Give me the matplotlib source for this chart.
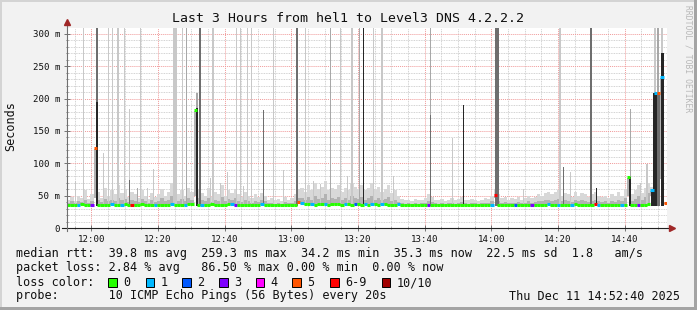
import numpy as np
import matplotlib.pyplot as plt
from matplotlib.patches import Rectangle

W, H = 697, 310

# time axis: minutes after the left edge (11:52:40), 3 hours wide
start = "11:52:40"
span = 180

# median rtt per minute (ms)
median = [
    35.5, 35, 36, 35.5, 36.5, 35, 36, 35.5, 124, 36,
    35, 36, 35.5, 36.5, 35, 36, 35.5, 37, 36, 35.5,
    36, 35.5, 36.5, 35, 36, 35.5, 35, 36, 35.5, 36,
    35, 36.5, 36, 35.5, 36, 35, 36.5, 37, 182, 36,
    35.5, 36, 35, 36.5, 35.5, 36, 35, 36, 37, 36.5,
    36, 35.5, 36, 35, 35.5, 36, 35.5, 36, 36.5, 36,
    35.5, 35, 35.5, 35, 35.5, 36, 35, 35.5, 36, 40,
    38, 37, 36.5, 37, 36, 37.5, 36.5, 37, 36, 37,
    36.5, 37, 36, 37.5, 36.5, 36, 37, 36.5, 36, 37.5,
    36, 37, 36.5, 36, 37, 36.5, 36, 35.5, 36, 36.5,
    35.5, 35, 35.5, 35, 35.5, 35, 35.5, 35, 35.5, 36,
    35, 35.5, 35, 35.5, 35, 35.5, 36, 35.5, 35, 35.5,
    35, 35.5, 35, 35.5, 36, 35.5, 35, 35.5, 51, 35,
    35.5, 35, 35.5, 35, 35.5, 35, 35.5, 35, 35.5, 35,
    35.5, 36, 35.5, 36, 36.5, 36, 35.5, 36, 35.5, 36,
    35.5, 36, 36.5, 36, 35.5, 36, 35.5, 36, 37, 36,
    35.5, 36, 35.5, 36, 35.5, 36, 35.5, 36, 79, 36,
    35.5, 36, 36, 35.5, 37, 59, 209, 209, 233, 39,
]

# minutes with packet loss (index into median) and loss class
loss_idx = [3, 7, 8, 13, 16, 19, 26, 31, 35, 40, 49, 50, 58, 69, 70, 73, 77, 83,
            86, 89, 91, 94, 99, 108, 127, 128, 134, 139, 144, 147, 151, 158, 159,
            166, 171, 175, 176, 177, 178, 179]
loss_lvl = [1, 3, 5, 1, 1, 6, 1, 1, 1, 1, 1, 3, 1, 5, 1, 1, 1, 1,
            2, 1, 1, 1, 1, 3, 1, 6, 2, 3, 1, 1, 1, 6, 1,
            1, 3, 1, 1, 5, 1, 5]

# upper edge of the light smoke per minute (ms)
smoke_top = [
    44, 48, 42, 50, 46, 58, 45, 52, 60, 55,
    47, 62, 50, 58, 52, 66, 54, 60, 48, 56,
    52, 47, 58, 50, 45, 54, 48, 52, 60, 50,
    55, 70, 64, 52, 58, 50, 62, 56, 68, 60,
    54, 50, 62, 48, 55, 52, 66, 50, 58, 54,
    60, 52, 48, 56, 50, 46, 52, 48, 54, 50,
    44, 46, 43, 45, 42, 48, 44, 46, 52, 60,
    62, 56, 66, 58, 70, 60, 64, 72, 58, 62,
    60, 66, 56, 62, 58, 70, 64, 60, 66, 58,
    62, 70, 58, 64, 56, 60, 66, 54, 58, 50,
    45, 43, 44, 42, 45, 43, 44, 46, 52, 48,
    44, 43, 45, 42, 44, 46, 43, 45, 48, 44,
    43, 45, 44, 42, 44, 46, 45, 50, 58, 52,
    46, 48, 44, 46, 45, 48, 44, 46, 50, 47,
    48, 52, 50, 54, 56, 52, 55, 58, 50, 54,
    52, 48, 56, 50, 54, 52, 48, 53, 56, 50,
    48, 50, 46, 52, 49, 55, 50, 60, 64, 52,
    58, 66, 54, 62, 70, 64, 80, 90, 95, 40,
]

# upper edge of the denser (darker) smoke per minute (ms)
smoke_mid = [
    39, 41, 38, 42, 40, 44, 39, 42, 46, 43,
    40, 45, 41, 44, 42, 47, 43, 45, 40, 44,
    42, 40, 45, 41, 39, 43, 40, 42, 46, 41,
    44, 50, 47, 42, 45, 41, 46, 44, 50, 46,
    43, 41, 46, 40, 44, 42, 48, 41, 45, 43,
    46, 42, 40, 44, 41, 39, 42, 40, 43, 41,
    38, 39, 37.5, 38.5, 37, 40, 38, 39, 42, 46,
    46, 43, 48, 44, 50, 45, 47, 52, 44, 46,
    45, 48, 43, 46, 44, 50, 47, 45, 48, 44,
    46, 50, 44, 47, 43, 45, 48, 42, 44, 40,
    38, 37, 38, 37, 38, 37, 38, 39, 42, 40,
    38, 37, 38, 37, 38, 39, 37, 38, 40, 38,
    37, 38, 38, 37, 38, 39, 38, 41, 46, 42,
    39, 40, 38, 39, 38, 40, 38, 39, 41, 39,
    40, 42, 41, 43, 44, 42, 43, 45, 41, 43,
    42, 40, 44, 41, 43, 42, 40, 42, 44, 41,
    40, 41, 39, 42, 40, 43, 41, 46, 50, 42,
    45, 50, 43, 48, 54, 50, 62, 70, 75, 38,
]

# smoke spikes: minute, top (ms), shade (0 light .. 3 black), width (min)
spike_t = [4.8, 8.9, 12.3, 13.6, 15.15, 17.1, 22.1, 32.4, 34.6, 35.9, 39.9, 43.8,
           50.7, 51.9, 54.0, 55.2, 61.8, 69.0, 71.4, 78.9, 81.9, 85.5, 87.6, 88.9,
           91.8, 94.5, 108.9, 129.0, 147.9, 157.2, 176.4, 177.3, 178.5,
           2.4, 5.1, 10.8, 18.6, 18.6, 21.0, 24.0, 25.8, 38.9, 38.9, 8.9, 42.9,
           45.9, 48.0, 52.8, 58.8, 64.8, 73.8, 75.9, 84.0, 97.8, 108.9, 115.5,
           118.8, 136.8, 148.8, 150.9, 158.7, 168.9, 168.9, 171.9, 174.0, 175.5,
           176.4, 177.4, 178.6]
spike_top = [400, 400, 400, 400, 400, 400, 400, 400, 400, 400, 400, 400,
             400, 400, 400, 400, 400, 400, 400, 400, 400, 400, 400, 400,
             400, 400, 400, 400, 400, 400, 400, 400, 400,
             72, 76, 116, 184, 74, 62, 62, 91, 209, 185, 195, 78,
             70, 86, 65, 182, 89, 73, 68, 80, 81, 175, 139,
             190, 60, 94, 87, 62, 184, 79, 70, 99, 59,
             209, 209, 270]
spike_shade = [0, 2, 0, 0, 0, 0, 0, 0, 0, 1, 2, 0,
               0, 0, 0, 0, 0, 2, 0, 1, 0, 0, 1, 3,
               0, 0, 1, 2, 0, 2, 0, 1, 0,
               0, 1, 0, 0, 2, 1, 0, 0, 1, 3, 3, 0,
               0, 0, 0, 2, 0, 0, 0, 0, 0, 2, 0,
               3, 0, 2, 0, 3, 1, 3, 0, 0, 3,
               3, 2, 3]
spike_w = [0.3, 0.6, 0.3, 0.3, 0.6, 0.3, 0.3, 1.0, 0.3, 0.4, 0.5, 0.5,
           0.3, 0.3, 0.3, 0.3, 0.3, 0.6, 0.3, 0.3, 0.3, 0.6, 0.3, 0.35,
           0.3, 0.7, 0.3, 1.0, 0.35, 0.35, 0.6, 0.6, 0.6,
           0.3, 0.3, 0.3, 0.3, 0.3, 0.3, 0.3, 0.3, 0.6, 0.6, 0.6, 0.3,
           0.3, 0.3, 0.3, 0.3, 0.3, 0.3, 0.3, 0.3, 0.3, 0.3, 0.3,
           0.3, 0.3, 0.3, 0.3, 0.3, 0.3, 0.6, 0.3, 0.4, 0.4,
           1.0, 0.8, 0.9]
shade_colors = ['#c8c8c8', '#a8a8a8', '#6e6e6e', '#262626']

x_labels = ["12:00", "12:20", "12:40", "13:00", "13:20", "13:40", "14:00", "14:20", "14:40"]
y_ticks = [0, 50, 100, 150, 200, 250, 300]
y_labels = ["0", "50 m", "100 m", "150 m", "200 m", "250 m", "300 m"]

loss_names = ["0", "1", "2", "3", "4", "5", "6-9", "10/10"]
loss_colors = ['#26ff00', '#00b8ff', '#0059ff', '#7e00ff', '#ff00ff', '#ff5500', '#ff0000', '#a10000']

row1 = "median rtt:  39.8 ms avg  259.3 ms max  34.2 ms min  35.3 ms now  22.5 ms sd  1.8   am/s"
row2 = "packet loss: 2.84 % avg   86.50 % max 0.00 % min  0.00 % now"
row4 = "probe:       10 ICMP Echo Pings (56 Bytes) every 20s"
stamp = "Thu Dec 11 14:52:40 2025"
title = "Last 3 Hours from hel1 to Level3 DNS 4.2.2.2"

MONO = 'DejaVu Sans Mono'
BG = '#f2f2f2'


def to_min(s):
    p = [int(v) for v in s.split(':')]
    while len(p) < 3:
        p.append(0)
    return p[0] * 60 + p[1] + p[2] / 60.0


t0 = to_min(start)
major_x = [to_min(s) - t0 for s in x_labels]

fig = plt.figure(figsize=(W / 100, H / 100), dpi=100, facecolor=BG)
ax = fig.add_axes([67 / W, (H - 228) / H, 600 / W, 200.5 / H])
ax.set_facecolor('white')
ax.set_xlim(0, span)
ax.set_ylim(0, 310)
for s in ax.spines.values():
    s.set_visible(False)

# grid
minor_x = np.arange(major_x[0] - 5, span, 5)
minor_y = np.arange(10, 310, 10)
dot = (0, (1, 1))
ax.vlines([m for m in minor_x if min(abs(m - M) for M in major_x) > 0.1], 0, 310,
          colors='#c4c4c4', lw=0.6, linestyles=dot, zorder=1)
ax.hlines([v for v in minor_y if v % 50], 0, span, colors='#c4c4c4', lw=0.6, linestyles=dot, zorder=1)
ax.vlines(major_x, 0, 310, colors='#f09a9a', lw=0.7, linestyles=dot, zorder=1)
ax.hlines([v for v in y_ticks if v > 0], 0, span, colors='#f09a9a', lw=0.7, linestyles=dot, zorder=1)

# smoke
t = np.arange(len(median))
med = np.array(median, float)
top = np.array(smoke_top, float)
mid = np.array(smoke_mid, float)
ax.bar(t, top - (med - 1.5), bottom=med - 1.5, width=1.0, align='edge',
       color='#d8d8d8', lw=0, zorder=2)
ax.bar(t, mid - (med - 1.5), bottom=med - 1.5, width=1.0, align='edge',
       color='#b2b2b2', lw=0, zorder=2.1)
for lvl in range(4):
    sel = [i for i in range(len(spike_t)) if spike_shade[i] == lvl]
    ax.bar([spike_t[i] for i in sel], [spike_top[i] - 34 for i in sel], bottom=34,
           width=[spike_w[i] for i in sel], color=shade_colors[lvl], lw=0, zorder=3 + lvl * 0.1)

# median coloured by loss
loss = np.zeros(len(median), int)
loss[loss_idx] = loss_lvl
for i in range(len(median)):
    c = loss_colors[loss[i]]
    ax.hlines(med[i], t[i], t[i] + 1, colors=c, lw=2.2, zorder=5)
    if i > 0 and loss[i] == loss[i - 1] and abs(med[i] - med[i - 1]) < 4:
        ax.vlines(t[i], med[i - 1], med[i], colors=c, lw=2.2, zorder=5)

# axes lines and arrows
ax.plot([-1.5, 181.0], [0, 0], color='#202020', lw=0.8, clip_on=False, zorder=6)
ax.plot([0, 0], [-5, 316], color='#707070', lw=0.8, clip_on=False, zorder=6)
ax.plot(181.6, 0, marker='>', ms=4.5, color='#a02828', mec='#a02828', clip_on=False, zorder=7)
ax.plot(0, 318, marker='^', ms=4.5, color='#a02828', mec='#a02828', clip_on=False, zorder=7)

ax.set_xticks(major_x)
ax.set_xticklabels(x_labels)
ax.set_xticks(minor_x, minor=True)
ax.set_yticks(y_ticks)
ax.set_yticklabels(y_labels)
ax.set_yticks(minor_y, minor=True)
ax.tick_params(which='both', direction='inout', color='#606060', width=0.6)
ax.tick_params(which='major', length=4, labelsize=6.6, pad=3)
ax.tick_params(which='minor', length=2)
for lab in ax.get_xticklabels() + ax.get_yticklabels():
    lab.set_family(MONO)
    lab.set_color('#101010')


def px(x, y):
    return x / W, 1 - y / H


fig.text(*px(348, 19), title, family=MONO, fontsize=9.5, ha='center', va='center', color='#101010')
fig.text(*px(11, 126), 'Seconds', family=MONO, fontsize=8.5, rotation=90, ha='center', va='center', color='#101010')
fig.text(*px(688, 5), 'RRDTOOL / TOBI OETIKER', family=MONO, fontsize=5.8, rotation=270,
         ha='center', va='top', color='#b8b8b8')

fs = 8.5
fig.text(*px(16, 254), row1, family=MONO, fontsize=fs, va='center', color='#101010')
fig.text(*px(16, 268), row2, family=MONO, fontsize=fs, va='center', color='#101010')
fig.text(*px(16, 282.5), "loss color:", family=MONO, fontsize=fs, va='center', color='#101010')
box_x = [108, 145.7, 182.3, 219, 255.7, 292.3, 330, 381.7]
for bx, name, col in zip(box_x, loss_names, loss_colors):
    fig.patches.append(Rectangle(px(bx, 286.5), 8.5 / W, 8.5 / H, transform=fig.transFigure,
                                 facecolor=col, edgecolor='black', lw=0.7))
    fig.text(*px(bx + 15, 282.5), name, family=MONO, fontsize=fs, va='center', color='#101010')
fig.text(*px(16, 296), row4, family=MONO, fontsize=fs, va='center', color='#101010')
fig.text(*px(680, 296), stamp, family=MONO, fontsize=fs, va='center', ha='right', color='#101010')

# frame
fig.patches.append(Rectangle((0, 1 - 2 / H), 1, 2 / H, transform=fig.transFigure, facecolor='#d4d4d4', lw=0))
fig.patches.append(Rectangle((0, 0), 2 / W, 1, transform=fig.transFigure, facecolor='#d4d4d4', lw=0))
fig.patches.append(Rectangle((1 - 3 / W, 0), 3 / W, 1, transform=fig.transFigure, facecolor='#a4a4a4', lw=0))
fig.patches.append(Rectangle((0, 0), 1, 3 / H, transform=fig.transFigure, facecolor='#a4a4a4', lw=0))

fig.savefig('out.png', dpi=100, facecolor=BG)
